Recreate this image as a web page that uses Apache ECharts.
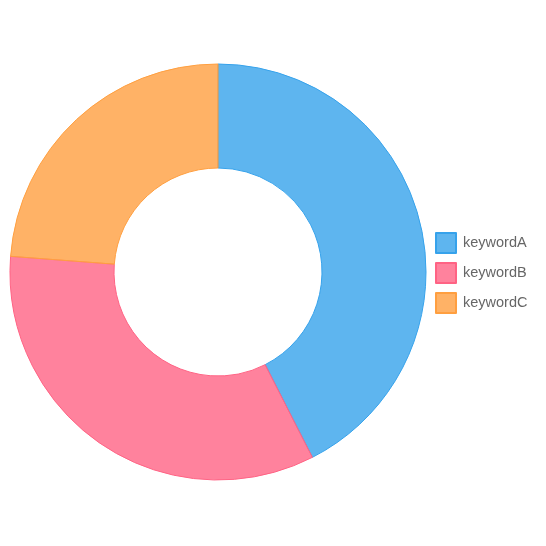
<!DOCTYPE html>
<html><head><meta charset="utf-8">
<script src="https://cdn.jsdelivr.net/npm/echarts@6/dist/echarts.min.js"></script>
<style>html,body{margin:0;padding:0;background:#fff}#c{width:546px;height:546px}</style>
</head><body><div id="c"></div>
<script>
const categories = ['keywordA', 'keywordB', 'keywordC'];
const values = [425, 337, 238];
const fills = ['rgba(54,162,235,0.8)', 'rgba(255,99,132,0.8)', 'rgba(255,159,64,0.8)'];
const borders = ['rgb(54,162,235)', 'rgb(255,99,132)', 'rgb(255,159,64)'];

const chart = echarts.init(document.getElementById('c'), null, {renderer: 'canvas'});
chart.setOption({
  animation: false,
  legend: {
    orient: 'vertical', left: 430, top: 227,
    itemWidth: 20, itemHeight: 20, itemGap: 8,
    icon: 'rect',
    textStyle: {color: '#666', fontSize: 14.5, padding: [0, 0, 0, 2], fontFamily: 'Liberation Sans, Arial, sans-serif'},
    data: categories
  },
  series: [{
    type: 'pie',
    center: [218, 272],
    radius: [104, 208],
    startAngle: 90,
    clockwise: true,
    label: {show: false},
    labelLine: {show: false},
    emphasis: {disabled: true},
    data: categories.map((n, i) => ({
      name: n, value: values[i],
      itemStyle: {color: fills[i], borderColor: borders[i], borderWidth: 1}
    }))
  }]
});
</script></body></html>
